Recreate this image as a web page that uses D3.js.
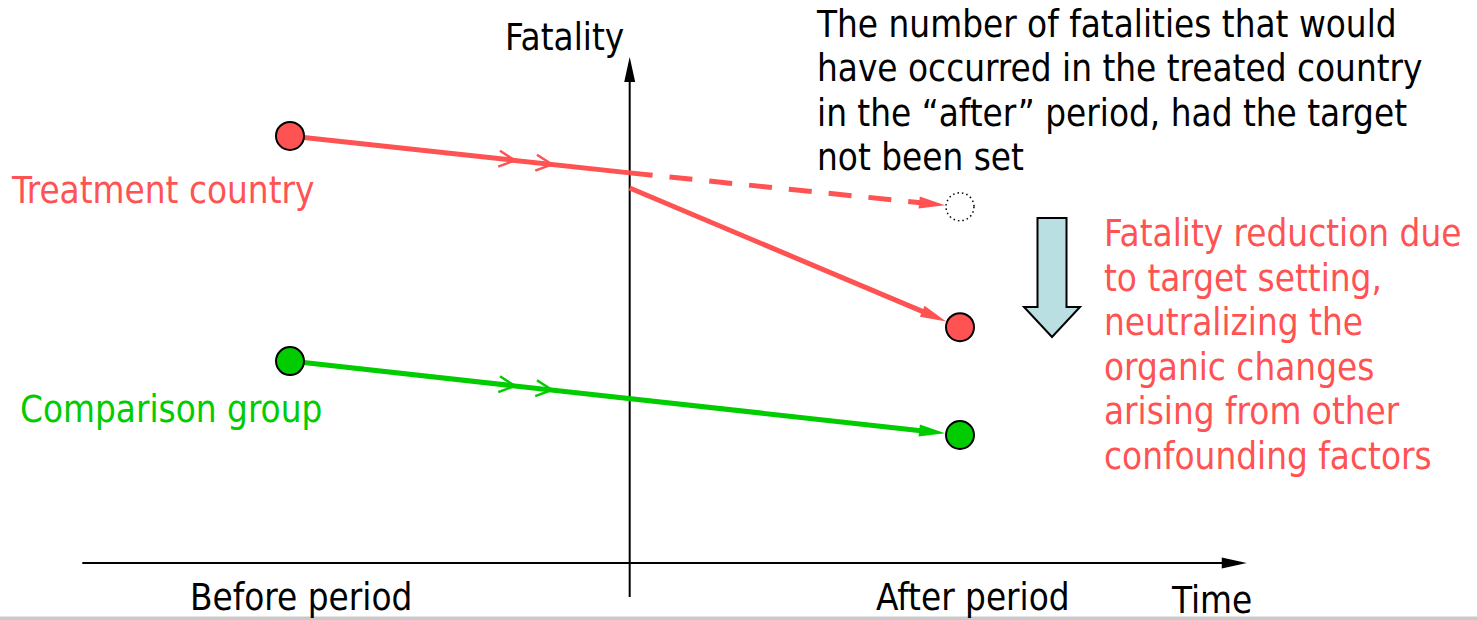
<!DOCTYPE html>
<html>
<head>
<meta charset="utf-8">
<script src="https://cdn.jsdelivr.net/npm/d3@7"></script>
<style>
  body { margin: 0; background: #fff; }
  text { font-family: "DejaVu Sans", sans-serif; font-stretch: condensed; font-size: 36.5px; }
</style>
</head>
<body>
<div id="chart"></div>
<script>
// periods on the time axis (0 = before, 1 = after), target set at 0.507
var periods = ["Before period", "After period"];
var targetTime = 0.507;

// fatality levels (0 = time axis, 100 = top of fatality axis)
var treatmentBefore = 84.4;
var treatmentAtTarget = 77.1;     // trend line where it meets the axis
var treatmentAfterStart = 74.1;   // level just after the target
var treatmentCounterfactual = 70.4;
var treatmentAfter = 46.6;
var comparisonBefore = 39.9;
var comparisonAfter = 25.3;

var labelLines = ["The number of fatalities that would",
    "have occurred in the treated country",
    "in the \u201cafter\u201d period, had the target",
    "not been set"];
var reductionLines = ["Fatality reduction due", "to target setting,",
    "neutralizing the", "organic changes",
    "arising from other", "confounding factors"];

var red = "#ff5252", green = "#00cc00";

var width = 1477, height = 620;
var svg = d3.select("#chart").append("svg")
    .attr("width", width)
    .attr("height", height);

var x = d3.scaleLinear().domain([0, 1]).range([290, 960]);
var y = d3.scaleLinear().domain([0, 100]).range([563, 57]);
var r = 14;

// bottom grey strip
svg.append("rect").attr("x", 0).attr("y", 616.5).attr("width", width).attr("height", 4)
    .attr("fill", "#c9c9c9");

// axes
var axisLeft = x(-0.31), axisRight = x(1.428);
svg.append("line")
    .attr("x1", axisLeft).attr("x2", axisRight - 20)
    .attr("y1", y(0)).attr("y2", y(0))
    .attr("stroke", "#000").attr("stroke-width", 2);
svg.append("path")
    .attr("d", "M" + axisRight + "," + y(0) + "l-25,-5.5l0,11z")
    .attr("fill", "#000");
svg.append("line")
    .attr("x1", x(targetTime)).attr("x2", x(targetTime))
    .attr("y1", y(-6.7)).attr("y2", y(100) + 20)
    .attr("stroke", "#000").attr("stroke-width", 2);
svg.append("path")
    .attr("d", "M" + x(targetTime) + "," + y(100) + "l-5.5,25l11,0z")
    .attr("fill", "#000");

function lineAt(p0, p1, t) {
    return [p0[0] + (p1[0] - p0[0]) * t, p0[1] + (p1[1] - p0[1]) * t];
}

// draws a segment, with a filled arrowhead at its end (stopping at the circle edge)
function segment(p0, p1, color, dashed, head) {
    var dx = p1[0] - p0[0], dy = p1[1] - p0[1];
    var len = Math.sqrt(dx * dx + dy * dy);
    var ux = dx / len, uy = dy / len;
    var end = head ? [p1[0] - ux * (r + 1), p1[1] - uy * (r + 1)] : p1;
    var hl = 26, hw = 6;
    var base = head ? [end[0] - ux * hl, end[1] - uy * hl] : end;
    svg.append("line")
        .attr("x1", p0[0]).attr("y1", p0[1])
        .attr("x2", head ? base[0] + ux * 4 : end[0]).attr("y2", head ? base[1] + uy * 4 : end[1])
        .attr("stroke", color).attr("stroke-width", 5)
        .attr("stroke-dasharray", dashed ? "23,17" : null);
    if (head) {
        svg.append("path")
            .attr("d", "M" + end[0] + "," + end[1] +
                "L" + (base[0] - uy * hw) + "," + (base[1] + ux * hw) +
                "L" + (base[0] + uy * hw) + "," + (base[1] - ux * hw) + "Z")
            .attr("fill", color);
    }
}

// open double chevrons in the middle of a trend line
function chevrons(p0, p1, tips, color) {
    var dx = p1[0] - p0[0], dy = p1[1] - p0[1];
    var len = Math.sqrt(dx * dx + dy * dy);
    var ux = dx / len, uy = dy / len;
    tips.forEach(function(tx) {
        var tip = lineAt(p0, p1, (tx - p0[0]) / dx);
        var b = [tip[0] - ux * 16, tip[1] - uy * 16];
        svg.append("path")
            .attr("d", "M" + (b[0] - uy * 8) + "," + (b[1] + ux * 8) +
                "L" + tip[0] + "," + tip[1] +
                "L" + (b[0] + uy * 8) + "," + (b[1] - ux * 8))
            .attr("fill", "none").attr("stroke", color).attr("stroke-width", 2.5);
    });
}

var tB = [x(0), y(treatmentBefore)];
var tT = [x(targetTime), y(treatmentAtTarget)];
var tS = [x(targetTime), y(treatmentAfterStart)];
var tCF = [x(1), y(treatmentCounterfactual)];
var tA = [x(1), y(treatmentAfter)];
var cB = [x(0), y(comparisonBefore)];
var cA = [x(1), y(comparisonAfter)];

segment(tB, tT, red, false, false);
segment(tT, tCF, red, true, true);
segment(tS, tA, red, false, true);
segment(cB, cA, green, false, true);
chevrons(tB, tT, [515, 552], red);
chevrons(cB, cA, [515, 552], green);

// points
svg.append("circle").attr("cx", tCF[0]).attr("cy", tCF[1]).attr("r", r)
    .attr("fill", "none").attr("stroke", "#000").attr("stroke-width", 1.5)
    .attr("stroke-dasharray", "1.5,3");
[[tB, red], [tA, red], [cB, green], [cA, green]].forEach(function(d) {
    svg.append("circle").attr("cx", d[0][0]).attr("cy", d[0][1]).attr("r", r)
        .attr("fill", d[1]).attr("stroke", "#000").attr("stroke-width", 2);
});

// big reduction arrow
var ax = 1052;
svg.append("path")
    .attr("d", "M" + (ax - 14.5) + "," + 218 + "H" + (ax + 14.5) + "V" + 307 +
        "H" + (ax + 28) + "L" + ax + "," + 337 + "L" + (ax - 28) + "," + 307 +
        "H" + (ax - 14.5) + "Z")
    .attr("fill", "#b9dfe3").attr("stroke", "#000").attr("stroke-width", 2)
    .attr("stroke-linejoin", "miter");

// texts
svg.append("text").attr("x", 505).attr("y", 50).text("Fatality");
svg.append("text").attr("x", 1172).attr("y", 613).text("Time");
svg.append("text").attr("x", 190).attr("y", 610).text(periods[0]);
svg.append("text").attr("x", 876).attr("y", 610).text(periods[1]);
svg.append("text").attr("x", 12).attr("y", 203).attr("fill", red).text("Treatment country");
svg.append("text").attr("x", 20).attr("y", 422).attr("fill", green).text("Comparison group");

svg.append("g").selectAll("text").data(labelLines).enter().append("text")
    .attr("x", 817).attr("y", function(d, i) { return 37 + i * 44.3; })
    .text(function(d) { return d; });
svg.append("g").selectAll("text").data(reductionLines).enter().append("text")
    .attr("x", 1104).attr("y", function(d, i) { return 246 + i * 44.5; })
    .attr("fill", red)
    .text(function(d) { return d; });
</script>
</body>
</html>
